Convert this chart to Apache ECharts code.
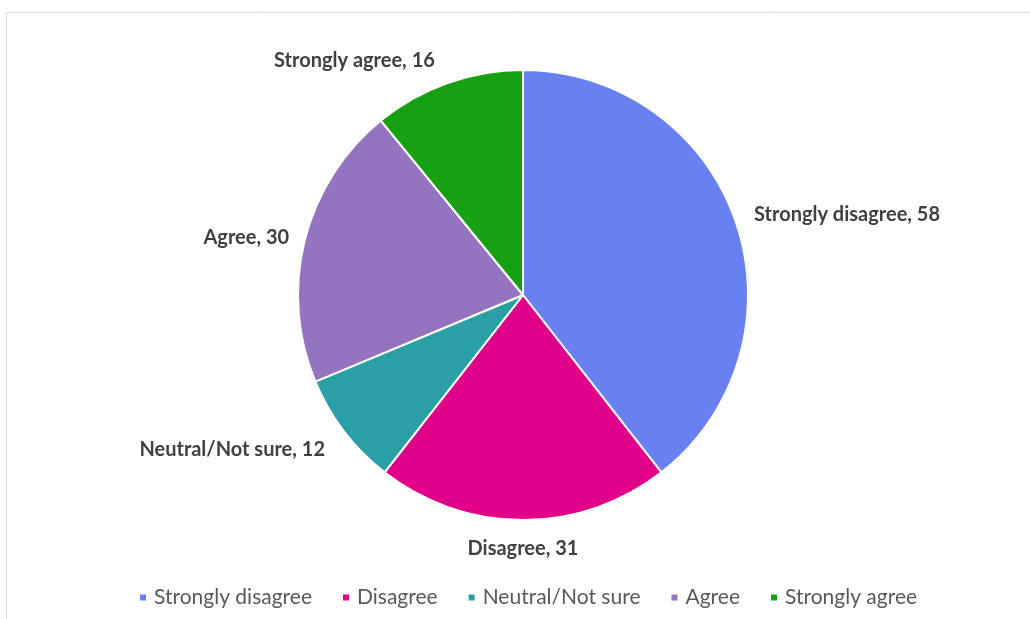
<!DOCTYPE html>
<html>
<head>
<meta charset="utf-8">
<script src="https://cdn.jsdelivr.net/npm/echarts@6/dist/echarts.min.js"></script>
<style>
  html, body { margin: 0; padding: 0; background: #fff; }
  #chart { width: 1030px; height: 619px; }
</style>
</head>
<body>
<div id="chart"></div>
<script>
// Survey responses
const categories = ['Strongly disagree', 'Disagree', 'Neutral/Not sure', 'Agree', 'Strongly agree'];
const counts = [58, 31, 12, 30, 16];
const colors = ['#6880f0', '#e0008a', '#2a9fa6', '#9474be', '#16a012'];

// Small per-label nudges (px) so the labels sit clear of the pie edge
const labelOffsets = [
  { dx: 0, dy: -3 },
  { dx: -5, dy: 15, align: 'center' },
  { dx: -3, dy: 10 },
  { dx: 3, dy: 1 },
  { dx: -3, dy: -9 }
];

const chart = echarts.init(document.getElementById('chart'));
const font = 'Lato, "Open Sans", sans-serif';

chart.setOption({
  animation: false,
  color: colors,
  graphic: [{
    type: 'rect',
    shape: { x: 6.5, y: 12.5, width: 1040, height: 620 },
    style: { fill: 'none', stroke: '#d9d9d9', lineWidth: 1 },
    silent: true
  }],
  legend: {
    bottom: 6,
    left: 133,
    icon: 'rect',
    itemWidth: 8,
    itemHeight: 8,
    itemGap: 29,
    textStyle: { color: '#595959', fontSize: 21, fontFamily: font, padding: [0, 0, 0, 2] },
    data: categories
  },
  series: [{
    type: 'pie',
    center: [523, 295],
    radius: 225,
    startAngle: 90,
    clockwise: true,
    itemStyle: { borderColor: '#fff', borderWidth: 2 },
    label: {
      show: true,
      position: 'outside',
      formatter: '{b}, {c}',
      color: '#404040',
      fontSize: 20,
      fontWeight: 'bold',
      fontFamily: font
    },
    labelLine: { show: false, length: 14, length2: 0 },
    labelLayout: (params) => labelOffsets[params.dataIndex],
    data: categories.map((name, i) => ({ name, value: counts[i] }))
  }]
});
</script>
</body>
</html>
